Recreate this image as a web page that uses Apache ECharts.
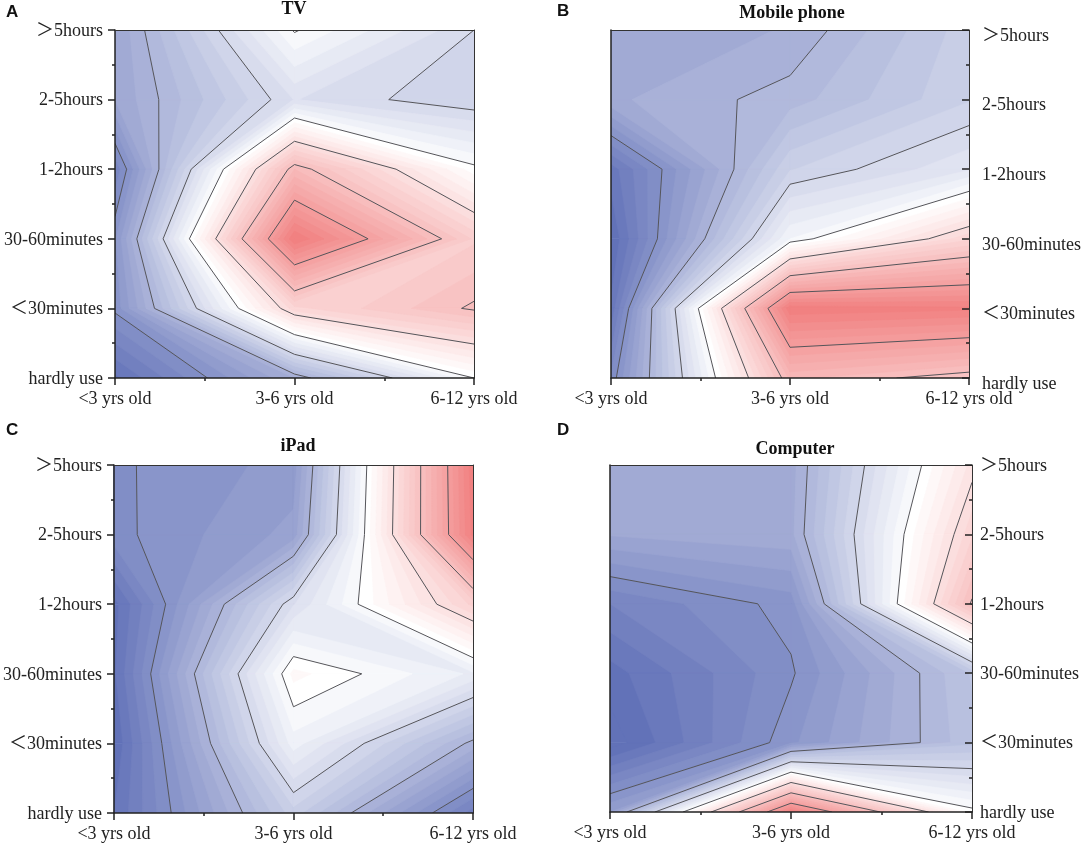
<!DOCTYPE html>
<html>
<head>
<meta charset="utf-8">
<style>html,body{margin:0;padding:0;background:#fff}#main{width:1084px;height:845px}</style>
<script src="https://cdn.jsdelivr.net/npm/echarts@6/dist/echarts.min.js"></script>
</head>
<body>
<div id="main"></div>
<script>
var ageLabels = ['<3 yrs old', '3-6 yrs old', '6-12 yrs old']
var timeLabels = ['＞5hours', '2-5hours', '1-2hours', '30-60minutes', '＜30minutes', 'hardly use']

// rows follow timeLabels, columns follow ageLabels. Unit = one contour step
var tvValues = [
  [0.60, 3.03, 2.00],
  [0.61, 2.21, 1.81],
  [-0.36, 5.20, 3.08],
  [0.17, 7.00, 4.56],
  [0.06, 4.33, 5.05],
  [-0.85, 0.80, 3.00]
]
var phoneValues = [
  [1.70, 1.81, 2.71],
  [1.76, 2.10, 2.78],
  [0.29, 2.78, 3.37],
  [0.02, 3.80, 5.35],
  [0.24, 7.95, 7.85],
  [0.84, 6.25, 5.83]
]
var ipadValues = [
  [0.96, 1.28, 7.94],
  [0.93, 1.47, 7.87],
  [0.12, 3.18, 5.46],
  [0.16, 4.27, 3.56],
  [0.02, 3.70, 1.92],
  [0.20, 2.71, 0.50]
]
var computerValues = [
  [1.72, 1.71, 4.88],
  [1.62, 1.74, 5.36],
  [0.60, 1.09, 6.05],
  [0.11, 0.966, 2.42],
  [-0.12, 1.15, 2.34],
  [1.40, 7.85, 4.10]
]

var tvLines = [0, 1, 2, 3, 4, 5, 6]
var phoneLines = [1, 2, 3, 4, 5, 6, 7]
var ipadLines = [1, 2, 3, 4, 5, 6, 7]
var computerLines = [1, 2, 3, 4, 5, 6, 7]

var panels = [
  { letter: 'A', name: 'TV', values: tvValues, lines: tvLines, scaleMin: -1, scaleMax: 7, left: 115, top: 30, width: 359, height: 348, side: 'left', labelShift: 1, labelMargin: 12, titleX: 294, titleY: 0, letterX: 6, letterY: 4 },
  { letter: 'B', name: 'Mobile phone', values: phoneValues, lines: phoneLines, scaleMin: 0, scaleMax: 8, left: 611, top: 30, width: 361, height: 348, side: 'right', labelShift: 6, labelMargin: 13, titleX: 792, titleY: 4, letterX: 557, letterY: 3 },
  { letter: 'C', name: 'iPad', values: ipadValues, lines: ipadLines, scaleMin: 0, scaleMax: 8, left: 113, top: 465, width: 360, height: 348, side: 'left', labelShift: 1, labelMargin: 12, titleX: 298, titleY: 437, letterX: 6, letterY: 422 },
  { letter: 'D', name: 'Computer', values: computerValues, lines: computerLines, scaleMin: 0, scaleMax: 8, left: 610, top: 465, width: 362, height: 347, side: 'right', labelShift: 1, labelMargin: 8, titleX: 795, titleY: 440, letterX: 557, letterY: 422 }
]

var serifFont = '"Liberation Serif", "Noto Sans CJK SC", serif'
var bandsPerLine = 5
var blue = [98, 114, 184]
var white = [255, 255, 255]
var red = [240, 122, 122]

function mix(a, b, t) {
  return 'rgb(' + Math.round(a[0] + (b[0] - a[0]) * t) + ',' + Math.round(a[1] + (b[1] - a[1]) * t) + ',' + Math.round(a[2] + (b[2] - a[2]) * t) + ')'
}

function shade(v, min, max) {
  var t = (v - min) / (max - min)
  t = Math.max(0, Math.min(1, t))
  return t < 0.5 ? mix(blue, white, t * 2) : mix(white, red, (t - 0.5) * 2)
}

function crossing(a, b, level) {
  var t = (level - a[2]) / (b[2] - a[2])
  return [a[0] + (b[0] - a[0]) * t, a[1] + (b[1] - a[1]) * t, level]
}

// diagonal corners above, the other two below: the high corners stay apart
function isSaddle(corners, level) {
  var up = corners.map(function(p) { return p[2] >= level })
  return up[0] === up[2] && up[1] === up[3] && up[0] !== up[1]
}

// parts of a cell where value >= level, corners are [x, y, value]
function clipAbove(corners, level) {
  if (isSaddle(corners, level)) {
    var parts = []
    corners.forEach(function(p, i) {
      if (p[2] >= level) parts.push([p, crossing(p, corners[(i + 1) % 4], level), crossing(p, corners[(i + 3) % 4], level)])
    })
    return parts
  }
  var out = []
  for (var i = 0; i < 4; i++) {
    var a = corners[i]
    var b = corners[(i + 1) % 4]
    if (a[2] >= level) out.push(a)
    if ((a[2] >= level) !== (b[2] >= level)) out.push(crossing(a, b, level))
  }
  return out.length >= 3 ? [out] : []
}

// contour pieces of a cell at one level, as pairs of points
function cellSegments(corners, level) {
  var segs = []
  if (isSaddle(corners, level)) {
    corners.forEach(function(p, i) {
      if (p[2] >= level) segs.push([crossing(p, corners[(i + 1) % 4], level), crossing(p, corners[(i + 3) % 4], level)])
    })
    return segs
  }
  var hits = []
  for (var i = 0; i < 4; i++) {
    var a = corners[i]
    var b = corners[(i + 1) % 4]
    if ((a[2] >= level) !== (b[2] >= level)) hits.push(crossing(a, b, level))
  }
  if (hits.length === 2) segs.push(hits)
  return segs
}

function cellCorners(values, c, r) {
  return [
    [c, r, values[r][c]],
    [c + 1, r, values[r][c + 1]],
    [c + 1, r + 1, values[r + 1][c + 1]],
    [c, r + 1, values[r + 1][c]]
  ]
}

var cells = []
for (var r = 0; r < timeLabels.length - 1; r++) {
  for (var c = 0; c < ageLabels.length - 1; c++) cells.push([c, r])
}

// all cells of one band are drawn before the next band, so no seams show
function fillRenderer(panel) {
  var flat = panel.values.reduce(function(a, b) { return a.concat(b) }, [])
  var min = Math.min.apply(null, flat)
  var max = Math.max.apply(null, flat)
  var step = 1 / bandsPerLine
  return function(params, api) {
    var children = []
    for (var n = Math.floor(min / step); n * step < max; n++) {
      var level = n * step
      var color = shade(level, panel.scaleMin, panel.scaleMax)
      cells.forEach(function(cell) {
        var corners = cellCorners(panel.values, cell[0], cell[1])
        var polys = level <= min ? [corners] : clipAbove(corners, level)
        polys.forEach(function(poly) {
          children.push({
            type: 'polygon',
            shape: { points: poly.map(function(p) { return api.coord([p[0], p[1]]) }) },
            style: { fill: color, stroke: color, lineWidth: 0.6 }
          })
        })
      })
    }
    return { type: 'group', children: children }
  }
}

function lineRenderer(panel) {
  return function(params, api) {
    var children = []
    cells.forEach(function(cell) {
      var corners = cellCorners(panel.values, cell[0], cell[1])
      panel.lines.forEach(function(level) {
        cellSegments(corners, level).forEach(function(seg) {
          var p1 = api.coord([seg[0][0], seg[0][1]])
          var p2 = api.coord([seg[1][0], seg[1][1]])
          children.push({
            type: 'line',
            shape: { x1: p1[0], y1: p1[1], x2: p2[0], y2: p2[1] },
            style: { stroke: '#55555a', lineWidth: 1 }
          })
        })
      })
    })
    return { type: 'group', children: children }
  }
}

var option = { animation: false, backgroundColor: '#fff', title: [], grid: [], xAxis: [], yAxis: [], series: [] }
var axisStroke = { color: '#222', width: 1.5 }
var frameStroke = { color: '#333', width: 1 }
var tickStroke = { color: '#222', width: 1.5 }

panels.forEach(function(p, i) {
  option.title.push({
    text: p.name, left: p.titleX, top: p.titleY, textAlign: 'center', padding: 0,
    textStyle: { fontFamily: serifFont, fontSize: 18, fontWeight: 'bold', color: '#111' }
  })
  option.title.push({
    text: p.letter, left: p.letterX, top: p.letterY, padding: 0,
    textStyle: { fontFamily: '"Liberation Sans", sans-serif', fontSize: 17, fontWeight: 'bold', color: '#111' }
  })
  option.grid.push({ left: p.left, top: p.top, width: p.width, height: p.height })
  option.xAxis.push({
    gridIndex: i, type: 'value', min: 0, max: 2, interval: 1, position: 'bottom', z: 10,
    axisLine: { onZero: false, lineStyle: axisStroke },
    axisTick: { length: 7, lineStyle: tickStroke },
    minorTick: { show: true, splitNumber: 2, length: 3, lineStyle: tickStroke },
    splitLine: { show: false },
    axisLabel: {
      margin: 12, fontFamily: serifFont, fontSize: 18, color: '#222',
      formatter: function(v) { return ageLabels[v] }
    }
  }, {
    gridIndex: i, type: 'value', min: 0, max: 2, interval: 1, position: 'top', z: 10,
    axisLine: { onZero: false, lineStyle: frameStroke },
    axisTick: { show: false }, axisLabel: { show: false }, splitLine: { show: false }
  })
  var right = p.side === 'right'
  option.yAxis.push({
    gridIndex: i, type: 'value', min: 0, max: 5, interval: 1, inverse: true, position: p.side, z: 10,
    axisLine: { onZero: false, lineStyle: right ? frameStroke : axisStroke },
    axisTick: { inside: right, length: 7, lineStyle: tickStroke },
    minorTick: { show: true, splitNumber: 2, length: 3, lineStyle: tickStroke },
    splitLine: { show: false },
    axisLabel: {
      margin: p.labelMargin, fontFamily: serifFont, fontSize: 18, color: '#222',
      verticalAlign: 'top', lineHeight: p.labelShift * 2,
      formatter: function(v) { return timeLabels[v] }
    }
  }, {
    gridIndex: i, type: 'value', min: 0, max: 5, interval: 1, inverse: true, position: right ? 'left' : 'right', z: 10,
    axisLine: { onZero: false, lineStyle: right ? axisStroke : frameStroke },
    axisTick: { show: false }, axisLabel: { show: false }, splitLine: { show: false }
  })
  option.series.push({
    type: 'custom', xAxisIndex: i * 2, yAxisIndex: i * 2, coordinateSystem: 'cartesian2d',
    data: [[0, 0]], encode: { x: 0, y: 1 }, clip: true, silent: true, z: 2,
    renderItem: fillRenderer(p)
  }, {
    type: 'custom', xAxisIndex: i * 2, yAxisIndex: i * 2, coordinateSystem: 'cartesian2d',
    data: [[0, 0]], encode: { x: 0, y: 1 }, clip: true, silent: true, z: 3,
    renderItem: lineRenderer(p)
  })
})

var myChart = echarts.init(document.getElementById('main'), null, { renderer: 'canvas' })
myChart.setOption(option)
</script>
</body>
</html>
